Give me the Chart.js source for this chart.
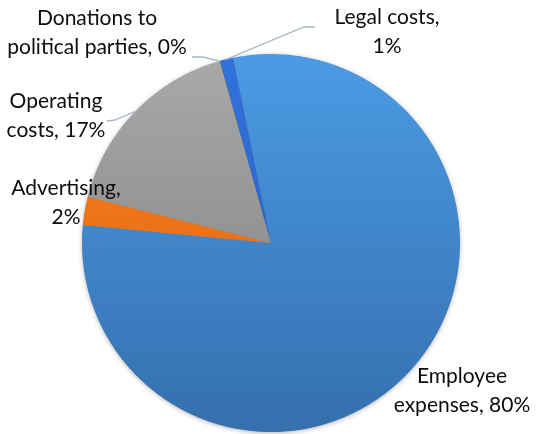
<!DOCTYPE html>
<html>
<head>
<meta charset="utf-8">
<script src="https://cdn.jsdelivr.net/npm/chart.js@4/dist/chart.umd.min.js"></script>
<style>
  html, body { margin: 0; padding: 0; background: #fff; }
  #wrap { width: 540px; height: 434px; }
</style>
</head>
<body>
<div id="wrap"><canvas id="costChart" width="540" height="434"></canvas></div>
<script>
// data
const categories = ["Employee expenses", "Advertising", "Operating costs", "Donations to political parties", "Legal costs"];
const shares = [79.75, 2.4, 16.65, 0.04, 1.16];

// slice colours (top, bottom of gradient)
const topColors = ["#4b9be4", "#ff8424", "#a9a9a9", "#ffc000", "#3173dc"];
const bottomColors = ["#356fae", "#d55e0b", "#7c7c7c", "#d9a300", "#2459bb"];

// label text lines and where they sit
const labelLines = [
  ["Employee", "expenses, 80%"],
  ["Advertising,", "2%"],
  ["Operating", "costs, 17%"],
  ["Donations to", "political parties, 0%"],
  ["Legal costs,", "1%"]
];
const labelPos = [
  { x: 462, y: 383 },
  { x: 66, y: 195 },
  { x: 56, y: 108 },
  { x: 97, y: 25 },
  { x: 387, y: 24 }
];
// leader lines: elbow point then end point (null = no leader)
const leaders = [
  null,
  null,
  [{ x: 115, y: 120 }, { x: 107, y: 121 }],
  [{ x: 203, y: 57 }, { x: 192, y: 57 }],
  [{ x: 304, y: 27 }, { x: 315, y: 27 }]
];

function sliceGradient(ctx, i) {
  const chart = ctx.chart;
  const area = chart.chartArea;
  if (!area) return topColors[i];
  const g = chart.ctx.createLinearGradient(0, area.top, 0, area.bottom);
  g.addColorStop(0, topColors[i]);
  g.addColorStop(1, bottomColors[i]);
  return g;
}

const pieShadow = {
  id: 'pieShadow',
  beforeDatasetsDraw(chart) {
    const arc = chart.getDatasetMeta(0).data[0];
    if (!arc) return;
    const p = arc.getProps(['x', 'y', 'outerRadius'], true);
    const c = chart.ctx;
    c.save();
    c.shadowColor = 'rgba(0,0,0,0.35)';
    c.shadowBlur = 5;
    c.shadowOffsetX = 0;
    c.shadowOffsetY = 1;
    c.fillStyle = '#808080';
    c.beginPath();
    c.arc(p.x, p.y, p.outerRadius - 0.5, 0, Math.PI * 2);
    c.fill();
    c.restore();
  }
};

const sliceLabels = {
  id: 'sliceLabels',
  afterDatasetsDraw(chart) {
    const c = chart.ctx;
    const meta = chart.getDatasetMeta(0);
    c.save();
    c.strokeStyle = '#a8b7c9';
    c.lineWidth = 1.3;
    meta.data.forEach((arc, i) => {
      if (!leaders[i]) return;
      const p = arc.getProps(['x', 'y', 'startAngle', 'endAngle', 'outerRadius'], true);
      const mid = (p.startAngle + p.endAngle) / 2;
      c.beginPath();
      c.moveTo(p.x + Math.cos(mid) * p.outerRadius, p.y + Math.sin(mid) * p.outerRadius);
      leaders[i].forEach(pt => c.lineTo(pt.x, pt.y));
      c.stroke();
    });
    c.fillStyle = '#0d0d0d';
    c.font = '21px Lato';
    c.textAlign = 'center';
    c.textBaseline = 'alphabetic';
    labelLines.forEach((lines, i) => {
      lines.forEach((t, j) => {
        c.fillText(t, labelPos[i].x, labelPos[i].y + j * 29);
      });
    });
    c.restore();
  }
};

new Chart(document.getElementById('costChart'), {
  type: 'pie',
  data: {
    labels: categories,
    datasets: [{
      data: shares,
      backgroundColor: (ctx) => sliceGradient(ctx, ctx.dataIndex),
      borderWidth: 0
    }]
  },
  options: {
    responsive: false,
    animation: false,
    rotation: -11.6,
    layout: { padding: { top: 54, bottom: 2, left: 82, right: 80 } },
    plugins: {
      legend: { display: false },
      tooltip: { enabled: false }
    }
  },
  plugins: [pieShadow, sliceLabels]
});
</script>
</body>
</html>
